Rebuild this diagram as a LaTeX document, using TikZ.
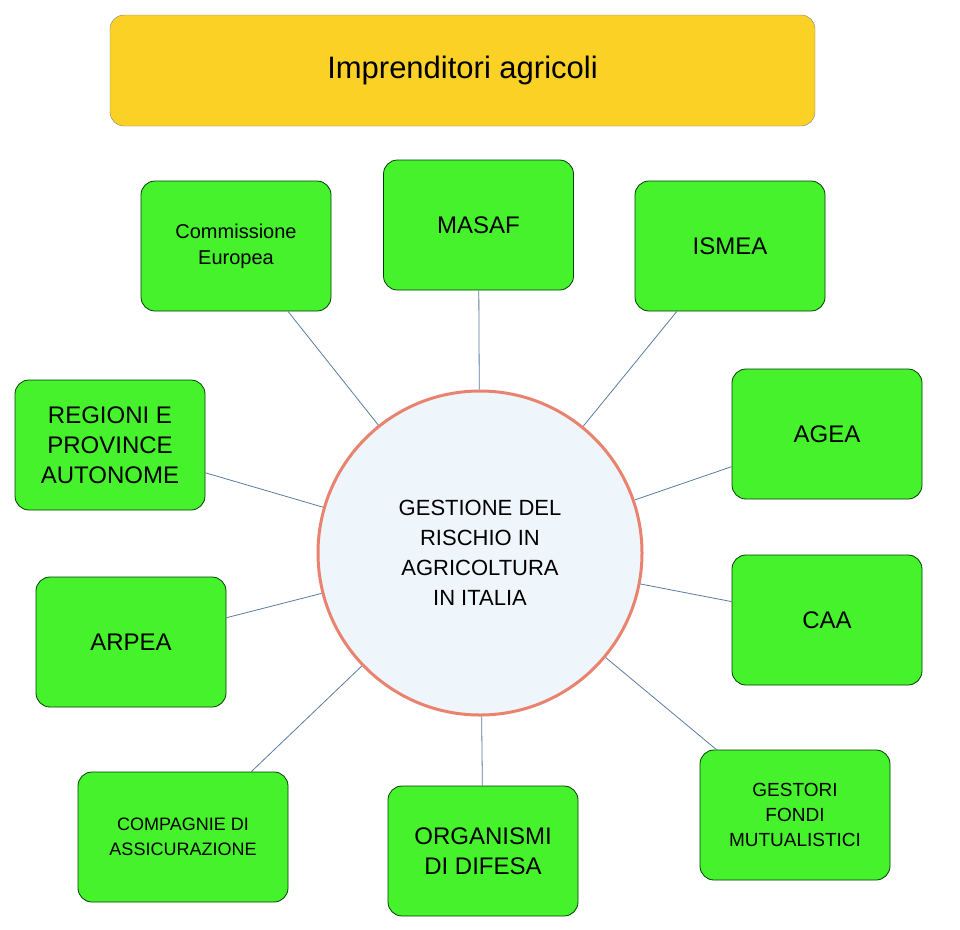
\documentclass[tikz,border=0pt]{standalone}
\usepackage{fontspec}
\setmainfont{Liberation Sans}
\begin{document}
\begin{tikzpicture}[x=1pt,y=-1pt,
 box/.style={draw=black!60!green!60!black, line width=0.8pt, fill=gfill, rounded corners=14pt, minimum width=190pt, minimum height=130pt, align=center, inner sep=2pt},
 link/.style={draw=linkc, line width=0.8pt}]
\definecolor{gfill}{HTML}{45F22C}
\definecolor{yfill}{HTML}{FBD125}
\definecolor{cfill}{HTML}{EEF5FB}
\definecolor{cdraw}{HTML}{E9826E}
\definecolor{linkc}{HTML}{5B7BA0}
\useasboundingbox (0,0) rectangle (960,929);
\node[draw=black!50, fill=yfill, rounded corners=14pt, minimum width=705pt, minimum height=111pt, font=\fontsize{31}{36}\selectfont] (top) at (462.5,70.5) {Imprenditori agricoli};
\node[circle, draw=cdraw, line width=3pt, fill=cfill, minimum size=324pt, align=center, font=\fontsize{22}{30}\selectfont] (c) at (480,553) {GESTIONE DEL\\RISCHIO IN\\AGRICOLTURA\\IN ITALIA};
\node[box, font=\fontsize{20}{26}\selectfont] (ce) at (236,246) {Commissione\\Europea};
\node[box, font=\fontsize{24}{30}\selectfont] (ma) at (478.5,225) {MASAF};
\node[box, font=\fontsize{24}{30}\selectfont] (is) at (730,246) {ISMEA};
\node[box, font=\fontsize{24}{30}\selectfont] (re) at (110,445) {REGIONI E\\PROVINCE\\AUTONOME};
\node[box, font=\fontsize{24}{30}\selectfont] (ag) at (827,434) {AGEA};
\node[box, font=\fontsize{24}{30}\selectfont] (ar) at (131,642) {ARPEA};
\node[box, font=\fontsize{24}{30}\selectfont] (caa) at (827,620) {CAA};
\node[box, minimum width=210pt, font=\fontsize{18}{25}\selectfont] (co) at (183,837) {COMPAGNIE DI\\ASSICURAZIONE};
\node[box, font=\fontsize{24}{30}\selectfont] (or) at (483,851) {ORGANISMI\\DI DIFESA};
\node[box, font=\fontsize{19}{25}\selectfont] (ge) at (795,815) {GESTORI\\FONDI\\MUTUALISTICI};
\foreach \n in {ce,ma,is,re,ag,ar,caa,co,or,ge} \draw[link] (\n) -- (c);
\end{tikzpicture}
\end{document}
